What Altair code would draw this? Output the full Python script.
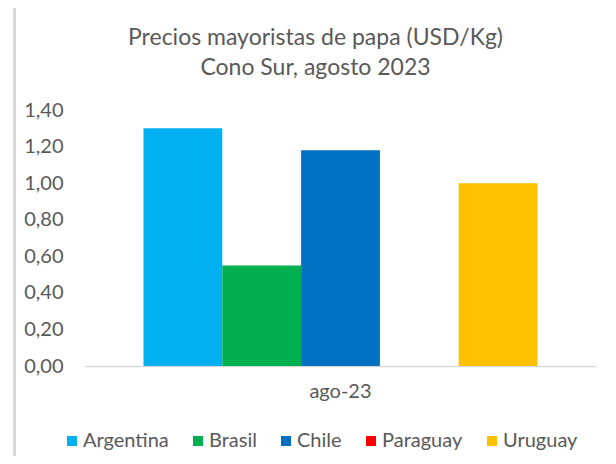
import altair as alt
import pandas as pd

countries = ["Argentina", "Brasil", "Chile", "Paraguay", "Uruguay"]
prices = [1.30, 0.55, 1.18, 0.0, 1.00]
period = ["ago-23"] * 5
colors = ["#00B0F0", "#00B050", "#0070C0", "#FF0000", "#FFC000"]
y_ticks = [0, 0.2, 0.4, 0.6, 0.8, 1.0, 1.2, 1.4]

df = pd.DataFrame({"periodo": period, "pais": countries, "precio": prices})

FONT = "Lato"
TXT = "#595959"

bars = alt.Chart(df).mark_bar().encode(
    x=alt.X("periodo:N",
            scale=alt.Scale(paddingInner=0, paddingOuter=0.1485),
            axis=alt.Axis(title=None, labelAngle=0, ticks=False, domainColor="#d9d9d9",
                          domainWidth=1.5, labelFontSize=20, labelColor=TXT, labelFont=FONT,
                          labelPadding=15)),
    xOffset=alt.XOffset("pais:N", sort=countries,
                        scale=alt.Scale(paddingInner=0, paddingOuter=0)),
    y=alt.Y("precio:Q", scale=alt.Scale(domain=[0, 1.4], nice=False),
            axis=alt.Axis(title=None, values=y_ticks, grid=False, domain=False, ticks=False,
                          labelExpr="replace(format(datum.value, '.2f'), '.', ',')",
                          labelFontSize=20, labelColor=TXT, labelFont=FONT, labelPadding=22)),
    color=alt.Color("pais:N", sort=countries,
                    scale=alt.Scale(domain=countries, range=colors),
                    legend=alt.Legend(title=None, orient="none", direction="horizontal",
                                      legendX=-23, legendY=321, symbolType="square",
                                      symbolSize=100, symbolStrokeWidth=0,
                                      labelFontSize=20, labelColor=TXT, labelFont=FONT,
                                      columnPadding=19, labelOffset=1)),
)

border = alt.Chart(pd.DataFrame({"b": [0]})).mark_rule(color="#d9d9d9", strokeWidth=3).encode(
    x=alt.value(-70.5), y=alt.value(-102), y2=alt.value(346)
)

chart = alt.layer(border, bars).properties(
    width=511,
    height=256,
    autosize=alt.AutoSizeParams(type="none"),
    padding={"left": 77, "top": 102, "right": 12, "bottom": 90},
    title=alt.Title(["Precios mayoristas de papa (USD/Kg)", "Cono Sur, agosto 2023"],
                    anchor="middle", dx=-25, fontSize=23, fontWeight="normal",
                    color=TXT, font=FONT, lineHeight=30, offset=-73),
).configure_view(stroke=None)

chart.save("out.html", embed_options={"renderer": "svg", "actions": False})
